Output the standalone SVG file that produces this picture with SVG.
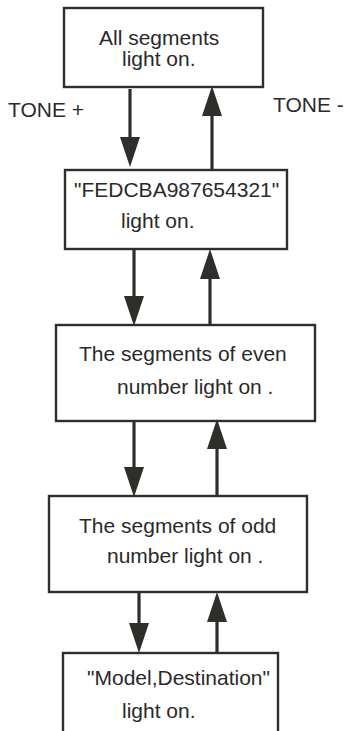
<svg xmlns="http://www.w3.org/2000/svg" width="344" height="731" viewBox="0 0 344 731">
<style>
.box{fill:#fff;stroke:#2e2e2a;stroke-width:2.4}
.t{font-family:"Liberation Sans",Arial,sans-serif;font-size:21px;fill:#2a2a2a}
.c{stroke:#2e2e2a;stroke-width:3.2;fill:none}
</style>
<defs>
<marker id="ah" markerUnits="userSpaceOnUse" markerWidth="30" markerHeight="20" refX="20" refY="10" orient="auto">
<path d="M0,0 L30,10 L0,20 z" fill="#2e2e2a"/>
</marker>
</defs>
<rect width="344" height="731" fill="#fff"/>
<g id="n1">
<rect class="box" x="64" y="8" width="199" height="79"/>
<text class="t" x="99" y="45">All segments</text>
<text class="t" x="122" y="66">light on.</text>
</g>
<g id="n2">
<rect class="box" x="65" y="170" width="222" height="79"/>
<text class="t" x="74" y="197">"FEDCBA987654321"</text>
<text class="t" x="121" y="228">light on.</text>
</g>
<g id="n3">
<rect class="box" x="56" y="325" width="259" height="96"/>
<text class="t" x="79" y="361">The segments of even</text>
<text class="t" x="117" y="394">number light on .</text>
</g>
<g id="n4">
<rect class="box" x="49" y="496" width="258" height="96"/>
<text class="t" x="79" y="533">The segments of odd</text>
<text class="t" x="107" y="563">number light on .</text>
</g>
<g id="n5">
<rect class="box" x="63" y="653" width="215" height="110"/>
<text class="t" x="87" y="685">"Model,Destination"</text>
<text class="t" x="122" y="718">light on.</text>
</g>
<g id="labels">
<text class="t" x="8" y="117">TONE +</text>
<text class="t" x="273" y="112">TONE -</text>
</g>
<g id="connectors">
<line class="c" x1="130" y1="89" x2="130" y2="157" marker-end="url(#ah)"/>
<line class="c" x1="212" y1="169" x2="212" y2="96" marker-end="url(#ah)"/>
<line class="c" x1="134" y1="250" x2="134" y2="316" marker-end="url(#ah)"/>
<line class="c" x1="210" y1="324" x2="210" y2="259" marker-end="url(#ah)"/>
<line class="c" x1="134" y1="422" x2="134" y2="487" marker-end="url(#ah)"/>
<line class="c" x1="217" y1="495" x2="217" y2="429" marker-end="url(#ah)"/>
<line class="c" x1="139" y1="593" x2="139" y2="643" marker-end="url(#ah)"/>
<line class="c" x1="217" y1="652" x2="217" y2="602" marker-end="url(#ah)"/>
</g>
</svg>
